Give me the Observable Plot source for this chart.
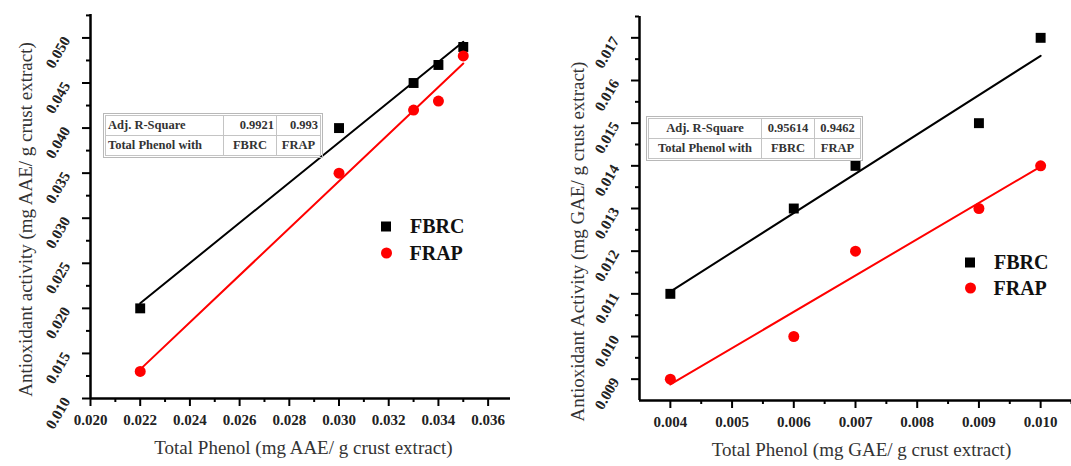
<!DOCTYPE html>
<html><head><meta charset="utf-8">
<script src="https://cdn.jsdelivr.net/npm/d3@7"></script>
<script src="https://cdn.jsdelivr.net/npm/@observablehq/plot@0.6"></script>
<style>
body{margin:0;background:#fff;}
#wrap{position:relative;width:1071px;height:466px;overflow:hidden;font-family:"Liberation Serif","Times New Roman",serif;}
.panel{position:absolute;top:0;}
.tbl{position:absolute;border-collapse:collapse;background:#fff;font-weight:bold;font-size:12.5px;color:#333;outline:1px solid #b8b8b8;outline-offset:1px;font-family:"Liberation Serif",serif;table-layout:fixed;}
.tbl td{border:1px solid #c4c4c4;padding:0 2px;height:20px;white-space:nowrap;overflow:hidden;box-sizing:border-box;}
.leg{position:absolute;font-weight:bold;font-size:20px;display:flex;align-items:center;transform:translateY(-50%);color:#111;}
.sq{width:10px;height:10px;background:#000;margin-right:19px;}
.ci{width:11px;height:11px;border-radius:50%;background:#f00;margin-right:18px;}
</style>
</head><body>
<div id="wrap"></div>
<script>
// ---- Left panel data (AAE) ----
const leftPhenol = [0.022, 0.030, 0.033, 0.034, 0.035];
const leftFBRC   = [0.020, 0.040, 0.045, 0.047, 0.049];
const leftFRAP   = [0.013, 0.035, 0.042, 0.043, 0.048];
const leftXTicks = [0.020, 0.022, 0.024, 0.026, 0.028, 0.030, 0.032, 0.034, 0.036];
const leftYTicks = [0.010, 0.015, 0.020, 0.025, 0.030, 0.035, 0.040, 0.045, 0.050];
const leftR2     = ["0.9921", "0.993"];

// ---- Right panel data (GAE) ----
const rightPhenol = [0.004, 0.006, 0.007, 0.009, 0.010];
const rightFBRC   = [0.011, 0.013, 0.014, 0.015, 0.017];
const rightFRAP   = [0.009, 0.010, 0.012, 0.013, 0.014];
const rightXTicks = [0.004, 0.005, 0.006, 0.007, 0.008, 0.009, 0.010];
const rightYTicks = [0.009, 0.010, 0.011, 0.012, 0.013, 0.014, 0.015, 0.016, 0.017];
const rightR2     = ["0.95614", "0.9462"];

const seriesNames = ["FBRC", "FRAP"];
const tableRowLabels = ["Adj. R-Square", "Total Phenol with"];

const fmt = d3.format(".3f");
const font = "Liberation Serif, Times New Roman, serif";

function mids(t) {
  const step = t[1] - t[0];
  return t.map(v => v + step / 2).concat([t[0] - step / 2]);
}

function panel(o) {
  const rows = [];
  o.phenol.forEach((x, i) => rows.push({x, y: o.fbrc[i], s: seriesNames[0]}));
  o.phenol.forEach((x, i) => rows.push({x, y: o.frap[i], s: seriesNames[1]}));
  const fb = rows.filter(d => d.s === "FBRC"), fr = rows.filter(d => d.s === "FRAP");
  return Plot.plot({
    width: o.width, height: 466,
    marginLeft: o.ml, marginTop: o.mt, marginBottom: o.mb, marginRight: o.mr,
    x: {domain: o.xd}, y: {domain: o.yd},
    style: {fontFamily: font, background: "transparent", color: "#000", overflow: "visible"},
    marks: [
      Plot.axisX(mids(o.xt).filter(v => v > o.xd[0] && v <= o.xd[1] + 1e-9), {tickSize: 4, strokeWidth: 2, tickFormat: () => "", label: null}),
      Plot.axisY(mids(o.yt).filter(v => v > o.yd[0] && v <= o.yd[1] + 1e-9), {tickSize: 4, strokeWidth: 2, tickFormat: () => "", label: null}),
      Plot.axisX(o.xt, {tickSize: 8, strokeWidth: 2, tickPadding: 8, tickFormat: fmt, label: null, fontSize: 15, fontWeight: "bold", fill: "#222"}),
      Plot.axisY(o.yt, {tickSize: 8, strokeWidth: 2, tickPadding: 16, tickRotate: -60, tickFormat: fmt, label: null, fontSize: 15, fontWeight: "bold", fill: "#222"}),
      Plot.ruleX([o.xd[0]], {strokeWidth: 2.5}),
      Plot.ruleY([o.yd[0]], {strokeWidth: 2.5}),
      Plot.text([o.xlabel], {text: d => d, frameAnchor: "bottom", textAnchor: "middle", dy: 55, dx: o.xldx, fontSize: 19, fill: "#333"}),
      Plot.text([o.ylabel], {text: d => d, frameAnchor: "left", textAnchor: "middle", rotate: -90, dx: o.yldx, dy: o.yldy, fontSize: 19, fill: "#333"}),
      Plot.linearRegressionY(fb, {x: "x", y: "y", stroke: "#000", strokeWidth: 2, ci: 0}),
      Plot.linearRegressionY(fr, {x: "x", y: "y", stroke: "#f00", strokeWidth: 2, ci: 0}),
      Plot.dot(fb, {x: "x", y: "y", symbol: "square", r: 5.6, fill: "#000"}),
      Plot.dot(fr, {x: "x", y: "y", symbol: "circle", r: 5.5, fill: "#f00"})
    ]
  });
}

const wrap = document.getElementById("wrap");

const left = panel({
  width: 540, ml: 90, mt: 14, mb: 68, mr: 30,
  xd: [0.020, 0.0369], yd: [0.010, 0.0526],
  xt: leftXTicks, yt: leftYTicks,
  phenol: leftPhenol, fbrc: leftFBRC, frap: leftFRAP,
  xlabel: "Total Phenol (mg AAE/ g crust extract)", xldx: 3,
  ylabel: "Antioxidant activity (mg AAE/ g crust extract)", yldx: -65, yldy: 13
});
left.classList.add("panel"); left.style.left = "0px";
wrap.appendChild(left);

const right = panel({
  width: 531, ml: 99, mt: 16, mb: 66, mr: 0,
  xd: [0.0035, 0.0105], yd: [0.0085, 0.0175],
  xt: rightXTicks, yt: rightYTicks,
  phenol: rightPhenol, fbrc: rightFBRC, frap: rightFRAP,
  xlabel: "Total Phenol (mg GAE/ g crust extract)", xldx: 6,
  ylabel: "Antioxidant Activity (mg GAE/ g crust extract)", yldx: -62, yldy: 33
});
right.classList.add("panel"); right.style.left = "540px";
wrap.appendChild(right);

function table(r2, left, top, widths, align) {
  const t = document.createElement("table");
  t.className = "tbl";
  t.style.left = left + "px"; t.style.top = top + "px";
  t.style.width = widths.reduce((a, b) => a + b, 0) + "px";
  const cg = document.createElement("colgroup");
  widths.forEach(w => { const c = document.createElement("col"); c.style.width = w + "px"; cg.appendChild(c); });
  t.appendChild(cg);
  const data = [[tableRowLabels[0], r2[0], r2[1]], [tableRowLabels[1], seriesNames[0], seriesNames[1]]];
  data.forEach((row, ri) => {
    const tr = document.createElement("tr");
    row.forEach((c, ci) => {
      const td = document.createElement("td");
      td.textContent = c;
      td.style.textAlign = align[ri][ci];
      tr.appendChild(td);
    });
    t.appendChild(tr);
  });
  wrap.appendChild(t);
}
table(leftR2, 105, 115, [118, 53, 44], [["left", "right", "right"], ["left", "center", "center"]]);
table(rightR2, 648, 118, [113, 53, 46], [["center", "center", "center"], ["center", "center", "center"]]);

function legend(x, y1, y2) {
  const a = document.createElement("div");
  a.className = "leg"; a.style.left = (x - 5) + "px"; a.style.top = y1 + "px";
  a.innerHTML = '<div class="sq"></div><span>' + seriesNames[0] + '</span>';
  wrap.appendChild(a);
  const b = document.createElement("div");
  b.className = "leg"; b.style.left = (x - 5.5) + "px"; b.style.top = y2 + "px";
  b.innerHTML = '<div class="ci"></div><span>' + seriesNames[1] + '</span>';
  wrap.appendChild(b);
}
legend(386, 226, 253);
legend(970, 262, 288);
</script>
</body></html>
